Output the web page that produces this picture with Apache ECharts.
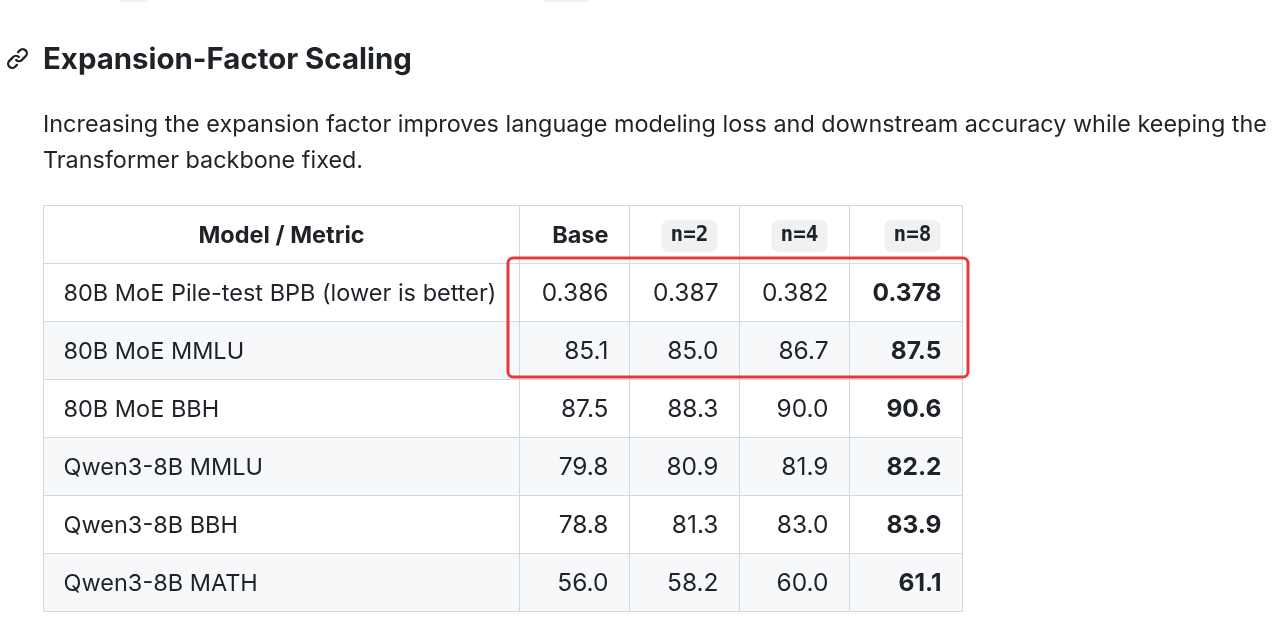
<!DOCTYPE html>
<html><head><meta charset="utf-8">
<script src="https://cdn.jsdelivr.net/npm/echarts@6/dist/echarts.min.js"></script>
<style>html,body{margin:0;padding:0;background:#fff}#c{width:1280px;height:636px}</style>
</head><body><div id="c"></div>
<script>
// ---- data ----
const headerLabel = 'Model / Metric';
const metrics = ['80B MoE Pile-test BPB (lower is better)','80B MoE MMLU','80B MoE BBH','Qwen3-8B MMLU','Qwen3-8B BBH','Qwen3-8B MATH'];
const lowerIsBetter = [true,false,false,false,false,false];
const decimals = [3,1,1,1,1,1];
const columnLabels = ['Base','n=2','n=4','n=8'];
const codeColumns = [false,true,true,true];
const baseVals = [0.386,85.1,87.5,79.8,78.8,56.0];
const n2Vals   = [0.387,85.0,88.3,80.9,81.3,58.2];
const n4Vals   = [0.382,86.7,90.0,81.9,83.0,60.0];
const n8Vals   = [0.378,87.5,90.6,82.2,83.9,61.1];
const highlightRows = [0,1];
const titleText = 'Expansion-Factor Scaling';
const paraLines = ['Increasing the expansion factor improves language modeling loss and downstream accuracy while keeping the','Transformer backbone fixed.'];

// ---- layout ----
const FONT = 'Inter, "Liberation Sans", sans-serif';
const MONO = '"DejaVu Sans Mono", "Liberation Mono", monospace';
const TEXT = '#1f2328';
const BORDER = '#d1d9e0';
const STRIPE = '#f6f8fa';
const colEdges = [0,476,586,696,806,919];
const rowsCat = ['header'].concat(metrics);
const valueCols = [baseVals,n2Vals,n4Vals,n8Vals];
const LINK_PATH = 'm7.775 3.275 1.25-1.25a3.5 3.5 0 1 1 4.95 4.95l-2.5 2.5a3.5 3.5 0 0 1-4.95 0 .751.751 0 0 1 .018-1.042.751.751 0 0 1 1.042-.018 1.998 1.998 0 0 0 2.83 0l2.5-2.5a2.002 2.002 0 0 0-2.83-2.83l-1.250 1.250a.751.751 0 0 1-1.042-.018.751.751 0 0 1-.018-1.042Zm-4.69 9.64a1.998 1.998 0 0 0 2.83 0l1.25-1.25a.751.751 0 0 1 1.042.018.751.751 0 0 1 .018 1.042l-1.25 1.25a3.5 3.5 0 1 1-4.95-4.95l2.5-2.5a3.5 3.5 0 0 1 4.95 0 .751.751 0 0 1-.018 1.042.751.751 0 0 1-1.042.018 1.998 1.998 0 0 0-2.83 0l-2.5 2.5a1.998 1.998 0 0 0 0 2.83Z';

const cells = [];
for (let r = 0; r < rowsCat.length; r++) {
  for (let c = 0; c < 5; c++) {
    let text, bold = false, code = false, align = 'right', numeric = false;
    if (r === 0) {
      if (c === 0) { text = headerLabel; align = 'center'; }
      else { text = columnLabels[c-1]; code = codeColumns[c-1]; }
      bold = true;
    } else {
      const i = r - 1;
      if (c === 0) { text = metrics[i]; align = 'left'; }
      else {
        const rowVals = valueCols.map(v => v[i]);
        const best = lowerIsBetter[i] ? Math.min(...rowVals) : Math.max(...rowVals);
        const v = valueCols[c-1][i];
        text = v.toFixed(decimals[i]);
        bold = v === best;
        numeric = true;
      }
    }
    cells.push({ value: [c, r], text, bold, code, align, numeric });
  }
}

function renderCell(params, api) {
  const c = api.value(0), r = api.value(1);
  const cell = cells[params.dataIndex];
  const p0 = api.coord([colEdges[c], r]);
  const p1 = api.coord([colEdges[c+1], r]);
  const h = api.size([0, 1])[1];
  const x0 = Math.round(p0[0]) + 0.5, x1 = Math.round(p1[0]) + 0.5;
  const yc = p0[1];
  const y0 = Math.round(yc - h/2) + 0.5;
  const fill = (r > 0 && r % 2 === 0) ? STRIPE : '#ffffff';
  const children = [{
    type: 'rect',
    shape: { x: x0, y: y0, width: x1 - x0, height: Math.round(h) },
    style: { fill, stroke: BORDER, lineWidth: 1 }
  }];
  let tx;
  if (cell.align === 'left') tx = x0 + 20;
  else if (cell.align === 'center') tx = (x0 + x1) / 2;
  else tx = x1 - 21;
  if (cell.code) {
    children.push({
      type: 'text',
      style: {
        text: cell.text, x: x1 - 22, y: yc + 2,
        align: 'right', verticalAlign: 'middle',
        textAlign: 'right', textVerticalAlign: 'middle',
        font: 'bold 21px ' + MONO, fill: TEXT,
        backgroundColor: '#eff1f3', padding: [6, 9, 5, 9], borderRadius: 7
      }
    });
  } else {
    const size = cell.numeric ? 24.5 : 23.5;
    children.push({
      type: 'text',
      style: {
        text: cell.text, x: tx, y: yc + 1.5,
        align: cell.align, verticalAlign: 'middle',
        textAlign: cell.align, textVerticalAlign: 'middle',
        font: (cell.bold ? 'bold ' : '') + size + 'px ' + FONT, fill: TEXT
      }
    });
  }
  return { type: 'group', children };
}

function renderHighlight(params, api) {
  const rA = api.value(0), rB = api.value(1);
  const pTL = api.coord([colEdges[1], rA + 1]);
  const pBR = api.coord([colEdges[5], rB + 1]);
  const h = api.size([0, 1])[1];
  const x = pTL[0] - 11, y = pTL[1] - h/2 - 5;
  const w = pBR[0] + 6 - x, hh = pBR[1] + h/2 - 2 - y;
  return {
    type: 'rect',
    shape: { x, y, width: w, height: hh, r: 5 },
    style: { fill: 'none', stroke: '#e8383d', lineWidth: 3 }
  };
}

function renderIcon() {
  return {
    type: 'path',
    shape: { pathData: LINK_PATH, layout: 'cover', x: 7, y: 48, width: 21, height: 21 },
    style: { fill: TEXT }
  };
}

const chart = echarts.init(document.getElementById('c'), null, { renderer: 'canvas' });
chart.setOption({
  animation: false,
  backgroundColor: '#ffffff',
  grid: { left: 43, top: 205, width: 919, height: 406 },
  xAxis: { type: 'value', min: 0, max: 919, show: false },
  yAxis: { type: 'category', data: rowsCat, inverse: true, show: false },
  graphic: [
    { type: 'rect', shape: { x: 120, y: 0, width: 27, height: 2 }, style: { fill: '#eff1f3' } },
    { type: 'rect', shape: { x: 544, y: 0, width: 44, height: 2 }, style: { fill: '#eff1f3' } },
    { type: 'text', style: { text: titleText, x: 43, y: 60, font: 'bold 29.4px ' + FONT, fill: TEXT, textVerticalAlign: 'middle', verticalAlign: 'middle' } },
    { type: 'text', style: { text: paraLines[0], x: 43, y: 125, font: '23.4px ' + FONT, fill: TEXT, textVerticalAlign: 'middle', verticalAlign: 'middle' } },
    { type: 'text', style: { text: paraLines[1], x: 43, y: 161, font: '23.4px ' + FONT, fill: TEXT, textVerticalAlign: 'middle', verticalAlign: 'middle' } }
  ],
  series: [
    { type: 'custom', renderItem: renderCell, data: cells, silent: true, clip: false },
    { type: 'custom', renderItem: renderHighlight, data: [[highlightRows[0], highlightRows[highlightRows.length-1]]], silent: true, clip: false, z: 5 },
    { type: 'custom', renderItem: renderIcon, data: [[0, 0]], silent: true, clip: false, coordinateSystem: 'none' }
  ]
});
</script>
</body></html>
